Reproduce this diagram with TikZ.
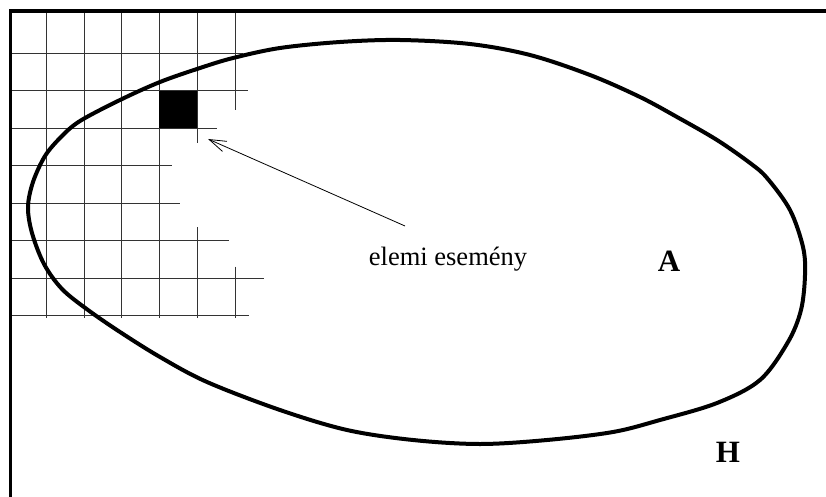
\documentclass[tikz,border=0pt]{standalone}
\usepackage{fontspec}
\setmainfont{Liberation Serif}
\usetikzlibrary{arrows.meta}
\begin{document}
\begin{tikzpicture}[x=1pt,y=-1pt,
  frameline/.style={line width=3.6pt},
  gridline/.style={line width=0.9pt,draw=black!80},
  setline/.style={line width=4pt,line join=round},
  lbl/.style={anchor=base,inner sep=0pt,font=\fontsize{26.5}{30}\selectfont},
  biglbl/.style={anchor=base,inner sep=0pt,font=\fontsize{31}{36}\selectfont\bfseries},
  pointer/.style={line width=0.8pt,-{Straight Barb[length=17pt,width=11pt,line width=0.8pt]}}]
\useasboundingbox (0,0) rectangle (826,497);
% grid
\foreach \x in {46.3,84,121.5,159}{\draw[gridline] (\x,12) -- (\x,317.5);}
\draw[gridline] (197,12) -- (197,143);
\draw[gridline] (197,227) -- (197,317.5);
\draw[gridline] (235,12) -- (235,110);
\draw[gridline] (235,266.5) -- (235,317.5);
\foreach \y/\e in {53/243,90.7/248,128/217,165.5/172,203/180,240.5/229,278/264,315.5/249}{\draw[gridline] (12,\y) -- (\e,\y);}
% elementary event
\fill (159,90.7) rectangle (197,128);
% frame
\draw[frameline] (826,11) -- (10.5,11) -- (10.5,497);
% set A
\draw[setline] plot[smooth cycle,tension=0.55] coordinates {
 (400,40) (470,44) (530,55) (590,75) (640,97) (677,117) (717,140) (750,163) (767,178) (790,210) (803,247)
 (805,275) (801,310) (788,342) (760,380) (717,403) (660,420) (613,432) (547,440) (480,444)
 (413,440) (347,430) (280,410) (207,382) (160,357) (120,332) (88,310) (62,289) (44,264) (32,233)
 (28,207) (33,182) (45,156) (61,137) (80,121) (120,100) (160,82) (200,68) (233,58) (280,48) (340,42)};
% labels
\node[lbl] (ev) at (448,265) {elemi esemény};
\node[biglbl] (A) at (669,271) {A};
\node[biglbl] (H) at (728,462) {H};
\coordinate (tail) at (405,226);
\coordinate (tip) at (208,139);
\draw[pointer] (tail) -- (tip);
\end{tikzpicture}
\end{document}
